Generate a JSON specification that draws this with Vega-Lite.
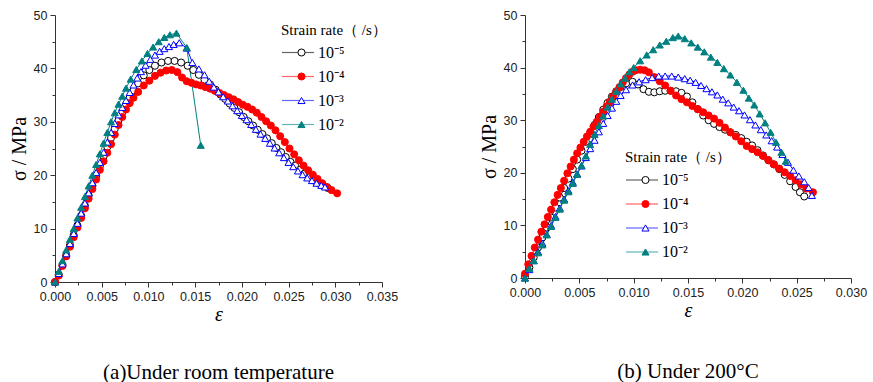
{
"$schema": "https://vega.github.io/schema/vega-lite/v6.json",
"padding": {"left": 9, "top": 9, "right": 0, "bottom": 0},
"background": "white",
"spacing": 81,
"config": {
  "view": {"stroke": null},
  "axis": {"domainColor": "#333333", "tickColor": "#333333", "labelColor": "#222222", "labelFont": "Liberation Sans", "labelFontSize": 12.5, "titleFont": "Liberation Serif", "titleFontWeight": "normal", "titleColor": "#000000", "titleFontSize": 20, "grid": false, "tickSize": 5, "labelPadding": 3, "labelFlush": false, "labelOverlap": false, "labelBound": false},
  "axisX": {"titleFontStyle": "italic", "titlePadding": 2},
  "axisY": {"titlePadding": 4},
  "legend": {"labelFont": "Liberation Serif", "labelFontSize": 16, "labelColor": "#000000", "titleFont": "Liberation Serif", "titleFontSize": 15, "titleFontWeight": "normal", "titleColor": "#000000"},
  "title": {"font": "Liberation Serif", "fontSize": 21, "fontWeight": "normal", "color": "#000000"}
},
"datasets": {
"rt": [
{"r":"1e-5","e":0,"s":0},{"r":"1e-5","e":0.0004,"s":1.4},{"r":"1e-5","e":0.0008,"s":3.2},{"r":"1e-5","e":0.0012,"s":5.0},{"r":"1e-5","e":0.0016,"s":6.9},{"r":"1e-5","e":0.002,"s":8.8},{"r":"1e-5","e":0.0024,"s":10.6},{"r":"1e-5","e":0.0028,"s":12.4},{"r":"1e-5","e":0.0032,"s":14.3},{"r":"1e-5","e":0.0036,"s":16.2},{"r":"1e-5","e":0.004,"s":18.0},{"r":"1e-5","e":0.0044,"s":19.9},{"r":"1e-5","e":0.0048,"s":21.7},{"r":"1e-5","e":0.0052,"s":23.5},{"r":"1e-5","e":0.0056,"s":25.3},{"r":"1e-5","e":0.006,"s":27.0},{"r":"1e-5","e":0.0064,"s":28.7},{"r":"1e-5","e":0.0068,"s":30.3},{"r":"1e-5","e":0.0072,"s":31.8},{"r":"1e-5","e":0.0076,"s":33.2},{"r":"1e-5","e":0.008,"s":34.6},{"r":"1e-5","e":0.0084,"s":35.9},{"r":"1e-5","e":0.0089,"s":37.2},{"r":"1e-5","e":0.0095,"s":38.7},{"r":"1e-5","e":0.0101,"s":39.7},{"r":"1e-5","e":0.0107,"s":40.5},{"r":"1e-5","e":0.0114,"s":41.1},{"r":"1e-5","e":0.0121,"s":41.4},{"r":"1e-5","e":0.0128,"s":41.4},{"r":"1e-5","e":0.0135,"s":41.1},{"r":"1e-5","e":0.0142,"s":40.5},{"r":"1e-5","e":0.0148,"s":39.7},{"r":"1e-5","e":0.0154,"s":38.8},{"r":"1e-5","e":0.016,"s":37.9},{"r":"1e-5","e":0.0166,"s":37.0},{"r":"1e-5","e":0.0172,"s":36.0},{"r":"1e-5","e":0.0177,"s":35.1},{"r":"1e-5","e":0.0182,"s":34.3},{"r":"1e-5","e":0.0187,"s":33.4},{"r":"1e-5","e":0.0192,"s":32.6},{"r":"1e-5","e":0.0197,"s":31.8},{"r":"1e-5","e":0.0202,"s":30.9},{"r":"1e-5","e":0.0207,"s":30.1},{"r":"1e-5","e":0.0212,"s":29.3},{"r":"1e-5","e":0.0217,"s":28.5},{"r":"1e-5","e":0.0222,"s":27.7},{"r":"1e-5","e":0.0227,"s":26.9},{"r":"1e-5","e":0.0232,"s":26.0},{"r":"1e-5","e":0.0237,"s":25.1},{"r":"1e-5","e":0.0242,"s":24.3},{"r":"1e-5","e":0.0247,"s":23.4},{"r":"1e-5","e":0.0252,"s":22.5},{"r":"1e-5","e":0.0257,"s":21.8},{"r":"1e-5","e":0.0262,"s":21.0},{"r":"1e-5","e":0.0267,"s":20.3},{"r":"1e-5","e":0.0272,"s":19.6},{"r":"1e-5","e":0.0277,"s":19.0},{"r":"1e-5","e":0.0282,"s":18.5},{"r":"1e-5","e":0.0287,"s":18.0},{"r":"1e-5","e":0.0292,"s":17.6},
{"r":"1e-4","e":0,"s":0},{"r":"1e-4","e":0.0004,"s":1.2},{"r":"1e-4","e":0.0008,"s":3.0},{"r":"1e-4","e":0.0012,"s":4.8},{"r":"1e-4","e":0.0016,"s":6.6},{"r":"1e-4","e":0.002,"s":8.4},{"r":"1e-4","e":0.0024,"s":10.2},{"r":"1e-4","e":0.0028,"s":12.0},{"r":"1e-4","e":0.0032,"s":13.8},{"r":"1e-4","e":0.0036,"s":15.6},{"r":"1e-4","e":0.004,"s":17.4},{"r":"1e-4","e":0.0044,"s":19.2},{"r":"1e-4","e":0.0048,"s":21.0},{"r":"1e-4","e":0.0052,"s":22.6},{"r":"1e-4","e":0.0056,"s":24.2},{"r":"1e-4","e":0.006,"s":25.8},{"r":"1e-4","e":0.0064,"s":27.6},{"r":"1e-4","e":0.0068,"s":29.4},{"r":"1e-4","e":0.0072,"s":30.9},{"r":"1e-4","e":0.0076,"s":32.3},{"r":"1e-4","e":0.008,"s":33.5},{"r":"1e-4","e":0.0084,"s":34.5},{"r":"1e-4","e":0.0089,"s":35.6},{"r":"1e-4","e":0.0095,"s":36.8},{"r":"1e-4","e":0.0101,"s":37.7},{"r":"1e-4","e":0.0107,"s":38.6},{"r":"1e-4","e":0.0113,"s":39.2},{"r":"1e-4","e":0.0119,"s":39.6},{"r":"1e-4","e":0.0125,"s":39.7},{"r":"1e-4","e":0.0131,"s":39.3},{"r":"1e-4","e":0.0136,"s":38.3},{"r":"1e-4","e":0.0141,"s":37.6},{"r":"1e-4","e":0.0146,"s":37.3},{"r":"1e-4","e":0.0151,"s":37.0},{"r":"1e-4","e":0.0156,"s":36.8},{"r":"1e-4","e":0.0161,"s":36.5},{"r":"1e-4","e":0.0166,"s":36.2},{"r":"1e-4","e":0.0171,"s":35.8},{"r":"1e-4","e":0.0176,"s":35.4},{"r":"1e-4","e":0.0181,"s":35.0},{"r":"1e-4","e":0.0186,"s":34.6},{"r":"1e-4","e":0.0191,"s":34.2},{"r":"1e-4","e":0.0196,"s":33.7},{"r":"1e-4","e":0.0201,"s":33.2},{"r":"1e-4","e":0.0206,"s":32.8},{"r":"1e-4","e":0.0211,"s":32.3},{"r":"1e-4","e":0.0216,"s":31.7},{"r":"1e-4","e":0.0221,"s":30.9},{"r":"1e-4","e":0.0226,"s":30.1},{"r":"1e-4","e":0.0231,"s":29.3},{"r":"1e-4","e":0.0236,"s":28.4},{"r":"1e-4","e":0.0241,"s":27.3},{"r":"1e-4","e":0.0246,"s":26.2},{"r":"1e-4","e":0.0251,"s":25.0},{"r":"1e-4","e":0.0256,"s":23.9},{"r":"1e-4","e":0.0261,"s":22.8},{"r":"1e-4","e":0.0266,"s":21.8},{"r":"1e-4","e":0.0271,"s":20.9},{"r":"1e-4","e":0.0276,"s":20.1},{"r":"1e-4","e":0.0281,"s":19.3},{"r":"1e-4","e":0.0286,"s":18.5},{"r":"1e-4","e":0.0291,"s":17.8},{"r":"1e-4","e":0.0296,"s":17.2},{"r":"1e-4","e":0.0302,"s":16.6},
{"r":"1e-3","e":0,"s":0},{"r":"1e-3","e":0.0004,"s":1.6},{"r":"1e-3","e":0.0008,"s":3.4},{"r":"1e-3","e":0.0012,"s":5.3},{"r":"1e-3","e":0.0016,"s":7.2},{"r":"1e-3","e":0.002,"s":9.1},{"r":"1e-3","e":0.0024,"s":11.0},{"r":"1e-3","e":0.0028,"s":12.9},{"r":"1e-3","e":0.0032,"s":14.8},{"r":"1e-3","e":0.0036,"s":16.7},{"r":"1e-3","e":0.004,"s":18.6},{"r":"1e-3","e":0.0044,"s":20.5},{"r":"1e-3","e":0.0048,"s":22.4},{"r":"1e-3","e":0.0052,"s":24.3},{"r":"1e-3","e":0.0056,"s":26.2},{"r":"1e-3","e":0.006,"s":28.0},{"r":"1e-3","e":0.0064,"s":29.7},{"r":"1e-3","e":0.0068,"s":31.3},{"r":"1e-3","e":0.0072,"s":32.7},{"r":"1e-3","e":0.0076,"s":34.0},{"r":"1e-3","e":0.008,"s":35.5},{"r":"1e-3","e":0.0084,"s":36.9},{"r":"1e-3","e":0.0088,"s":38.2},{"r":"1e-3","e":0.0092,"s":39.4},{"r":"1e-3","e":0.0097,"s":40.6},{"r":"1e-3","e":0.0102,"s":41.7},{"r":"1e-3","e":0.0107,"s":42.5},{"r":"1e-3","e":0.0112,"s":43.2},{"r":"1e-3","e":0.0117,"s":43.7},{"r":"1e-3","e":0.0122,"s":44.1},{"r":"1e-3","e":0.0127,"s":44.5},{"r":"1e-3","e":0.0133,"s":44.8},{"r":"1e-3","e":0.0141,"s":43.8},{"r":"1e-3","e":0.0147,"s":41.1},{"r":"1e-3","e":0.0154,"s":39.9},{"r":"1e-3","e":0.016,"s":38.8},{"r":"1e-3","e":0.0165,"s":37.6},{"r":"1e-3","e":0.017,"s":36.5},{"r":"1e-3","e":0.0175,"s":35.6},{"r":"1e-3","e":0.018,"s":34.7},{"r":"1e-3","e":0.0185,"s":33.9},{"r":"1e-3","e":0.019,"s":33.0},{"r":"1e-3","e":0.0195,"s":32.1},{"r":"1e-3","e":0.02,"s":31.2},{"r":"1e-3","e":0.0205,"s":30.4},{"r":"1e-3","e":0.021,"s":29.5},{"r":"1e-3","e":0.0215,"s":28.6},{"r":"1e-3","e":0.022,"s":27.7},{"r":"1e-3","e":0.0225,"s":26.9},{"r":"1e-3","e":0.023,"s":26.0},{"r":"1e-3","e":0.0235,"s":25.1},{"r":"1e-3","e":0.024,"s":24.2},{"r":"1e-3","e":0.0245,"s":23.3},{"r":"1e-3","e":0.025,"s":22.4},{"r":"1e-3","e":0.0255,"s":21.6},{"r":"1e-3","e":0.026,"s":20.8},{"r":"1e-3","e":0.0265,"s":20.1},{"r":"1e-3","e":0.027,"s":19.5},{"r":"1e-3","e":0.0275,"s":19.0},{"r":"1e-3","e":0.028,"s":18.5},{"r":"1e-3","e":0.0285,"s":18.1},{"r":"1e-3","e":0.0289,"s":17.8},
{"r":"1e-2","e":0,"s":0},{"r":"1e-2","e":0.0004,"s":2.0},{"r":"1e-2","e":0.0008,"s":4.0},{"r":"1e-2","e":0.0012,"s":6.0},{"r":"1e-2","e":0.0016,"s":8.0},{"r":"1e-2","e":0.002,"s":10.0},{"r":"1e-2","e":0.0024,"s":12.0},{"r":"1e-2","e":0.0028,"s":14.0},{"r":"1e-2","e":0.0032,"s":16.0},{"r":"1e-2","e":0.0036,"s":18.0},{"r":"1e-2","e":0.004,"s":20.0},{"r":"1e-2","e":0.0044,"s":22.0},{"r":"1e-2","e":0.0048,"s":24.0},{"r":"1e-2","e":0.0052,"s":26.0},{"r":"1e-2","e":0.0056,"s":28.0},{"r":"1e-2","e":0.006,"s":30.0},{"r":"1e-2","e":0.0064,"s":31.7},{"r":"1e-2","e":0.0068,"s":33.3},{"r":"1e-2","e":0.0072,"s":34.8},{"r":"1e-2","e":0.0076,"s":36.3},{"r":"1e-2","e":0.0081,"s":38.0},{"r":"1e-2","e":0.0087,"s":39.8},{"r":"1e-2","e":0.0093,"s":41.4},{"r":"1e-2","e":0.0099,"s":42.8},{"r":"1e-2","e":0.0105,"s":44.0},{"r":"1e-2","e":0.0111,"s":45.0},{"r":"1e-2","e":0.0117,"s":45.8},{"r":"1e-2","e":0.0123,"s":46.3},{"r":"1e-2","e":0.013,"s":46.6},{"r":"1e-2","e":0.0141,"s":43.9},{"r":"1e-2","e":0.0156,"s":25.6}
],
"t200": [
{"r":"1e-5","e":0,"s":0.3},{"r":"1e-5","e":0.0004,"s":2.0},{"r":"1e-5","e":0.0008,"s":3.9},{"r":"1e-5","e":0.0012,"s":5.8},{"r":"1e-5","e":0.0016,"s":7.7},{"r":"1e-5","e":0.002,"s":9.6},{"r":"1e-5","e":0.0024,"s":11.5},{"r":"1e-5","e":0.0028,"s":13.4},{"r":"1e-5","e":0.0032,"s":15.3},{"r":"1e-5","e":0.0036,"s":17.1},{"r":"1e-5","e":0.004,"s":18.9},{"r":"1e-5","e":0.0044,"s":20.7},{"r":"1e-5","e":0.0048,"s":22.5},{"r":"1e-5","e":0.0052,"s":24.2},{"r":"1e-5","e":0.0056,"s":25.9},{"r":"1e-5","e":0.006,"s":27.5},{"r":"1e-5","e":0.0064,"s":29.1},{"r":"1e-5","e":0.0068,"s":30.6},{"r":"1e-5","e":0.0072,"s":32.0},{"r":"1e-5","e":0.0076,"s":33.3},{"r":"1e-5","e":0.008,"s":34.5},{"r":"1e-5","e":0.0084,"s":35.5},{"r":"1e-5","e":0.0088,"s":36.3},{"r":"1e-5","e":0.0093,"s":37.0},{"r":"1e-5","e":0.0099,"s":37.3},{"r":"1e-5","e":0.0104,"s":36.8},{"r":"1e-5","e":0.0109,"s":35.9},{"r":"1e-5","e":0.0114,"s":35.4},{"r":"1e-5","e":0.0119,"s":35.3},{"r":"1e-5","e":0.0124,"s":35.5},{"r":"1e-5","e":0.0129,"s":35.6},{"r":"1e-5","e":0.0134,"s":35.6},{"r":"1e-5","e":0.0139,"s":35.5},{"r":"1e-5","e":0.0144,"s":35.2},{"r":"1e-5","e":0.0149,"s":34.5},{"r":"1e-5","e":0.0154,"s":33.4},{"r":"1e-5","e":0.0159,"s":32.1},{"r":"1e-5","e":0.0164,"s":30.9},{"r":"1e-5","e":0.0169,"s":30.0},{"r":"1e-5","e":0.0174,"s":29.3},{"r":"1e-5","e":0.0179,"s":28.7},{"r":"1e-5","e":0.0184,"s":28.2},{"r":"1e-5","e":0.0189,"s":27.7},{"r":"1e-5","e":0.0194,"s":27.2},{"r":"1e-5","e":0.0199,"s":26.6},{"r":"1e-5","e":0.0204,"s":25.9},{"r":"1e-5","e":0.0209,"s":25.2},{"r":"1e-5","e":0.0214,"s":24.3},{"r":"1e-5","e":0.0219,"s":23.3},{"r":"1e-5","e":0.0224,"s":22.4},{"r":"1e-5","e":0.0229,"s":21.6},{"r":"1e-5","e":0.0234,"s":20.7},{"r":"1e-5","e":0.0239,"s":19.6},{"r":"1e-5","e":0.0244,"s":18.4},{"r":"1e-5","e":0.0249,"s":17.3},{"r":"1e-5","e":0.0253,"s":16.3},{"r":"1e-5","e":0.0257,"s":15.5},
{"r":"1e-4","e":0,"s":0.8},{"r":"1e-4","e":0.0003,"s":2.6},{"r":"1e-4","e":0.0006,"s":4.2},{"r":"1e-4","e":0.0009,"s":5.8},{"r":"1e-4","e":0.0012,"s":7.3},{"r":"1e-4","e":0.0015,"s":8.8},{"r":"1e-4","e":0.0018,"s":10.2},{"r":"1e-4","e":0.0021,"s":11.6},{"r":"1e-4","e":0.0024,"s":13.0},{"r":"1e-4","e":0.0027,"s":14.4},{"r":"1e-4","e":0.003,"s":15.8},{"r":"1e-4","e":0.0033,"s":17.1},{"r":"1e-4","e":0.0036,"s":18.5},{"r":"1e-4","e":0.0039,"s":19.9},{"r":"1e-4","e":0.0042,"s":21.2},{"r":"1e-4","e":0.0045,"s":22.5},{"r":"1e-4","e":0.0048,"s":23.7},{"r":"1e-4","e":0.0051,"s":24.8},{"r":"1e-4","e":0.0054,"s":25.9},{"r":"1e-4","e":0.0057,"s":26.9},{"r":"1e-4","e":0.006,"s":27.8},{"r":"1e-4","e":0.0063,"s":28.8},{"r":"1e-4","e":0.0066,"s":29.7},{"r":"1e-4","e":0.0069,"s":30.7},{"r":"1e-4","e":0.0072,"s":31.6},{"r":"1e-4","e":0.0075,"s":32.6},{"r":"1e-4","e":0.0078,"s":33.5},{"r":"1e-4","e":0.0081,"s":34.5},{"r":"1e-4","e":0.0084,"s":35.4},{"r":"1e-4","e":0.0087,"s":36.3},{"r":"1e-4","e":0.009,"s":37.2},{"r":"1e-4","e":0.0093,"s":38.0},{"r":"1e-4","e":0.0096,"s":38.7},{"r":"1e-4","e":0.0099,"s":39.2},{"r":"1e-4","e":0.0102,"s":39.5},{"r":"1e-4","e":0.0106,"s":39.6},{"r":"1e-4","e":0.011,"s":39.5},{"r":"1e-4","e":0.0114,"s":39.1},{"r":"1e-4","e":0.0119,"s":38.2},{"r":"1e-4","e":0.0124,"s":37.4},{"r":"1e-4","e":0.0129,"s":36.6},{"r":"1e-4","e":0.0134,"s":35.6},{"r":"1e-4","e":0.0139,"s":34.7},{"r":"1e-4","e":0.0144,"s":34.0},{"r":"1e-4","e":0.0149,"s":33.4},{"r":"1e-4","e":0.0154,"s":32.7},{"r":"1e-4","e":0.0159,"s":32.1},{"r":"1e-4","e":0.0164,"s":31.5},{"r":"1e-4","e":0.0169,"s":30.9},{"r":"1e-4","e":0.0174,"s":30.3},{"r":"1e-4","e":0.0179,"s":29.5},{"r":"1e-4","e":0.0184,"s":28.6},{"r":"1e-4","e":0.0189,"s":27.7},{"r":"1e-4","e":0.0194,"s":26.9},{"r":"1e-4","e":0.0199,"s":26.0},{"r":"1e-4","e":0.0204,"s":25.1},{"r":"1e-4","e":0.0209,"s":24.5},{"r":"1e-4","e":0.0214,"s":23.9},{"r":"1e-4","e":0.0219,"s":23.2},{"r":"1e-4","e":0.0224,"s":22.4},{"r":"1e-4","e":0.0229,"s":21.6},{"r":"1e-4","e":0.0234,"s":20.8},{"r":"1e-4","e":0.0239,"s":20.1},{"r":"1e-4","e":0.0244,"s":19.4},{"r":"1e-4","e":0.0249,"s":18.6},{"r":"1e-4","e":0.0254,"s":17.8},{"r":"1e-4","e":0.0259,"s":17.0},{"r":"1e-4","e":0.0265,"s":16.3},
{"r":"1e-3","e":0,"s":0},{"r":"1e-3","e":0.0004,"s":1.6},{"r":"1e-3","e":0.0008,"s":3.3},{"r":"1e-3","e":0.0012,"s":5.0},{"r":"1e-3","e":0.0016,"s":6.6},{"r":"1e-3","e":0.002,"s":8.3},{"r":"1e-3","e":0.0024,"s":10.0},{"r":"1e-3","e":0.0028,"s":11.7},{"r":"1e-3","e":0.0032,"s":13.3},{"r":"1e-3","e":0.0036,"s":15.0},{"r":"1e-3","e":0.004,"s":16.6},{"r":"1e-3","e":0.0044,"s":18.2},{"r":"1e-3","e":0.0048,"s":19.8},{"r":"1e-3","e":0.0052,"s":21.3},{"r":"1e-3","e":0.0056,"s":22.9},{"r":"1e-3","e":0.006,"s":24.6},{"r":"1e-3","e":0.0064,"s":26.2},{"r":"1e-3","e":0.0068,"s":27.8},{"r":"1e-3","e":0.0072,"s":29.4},{"r":"1e-3","e":0.0076,"s":30.9},{"r":"1e-3","e":0.008,"s":32.3},{"r":"1e-3","e":0.0084,"s":33.6},{"r":"1e-3","e":0.0088,"s":34.7},{"r":"1e-3","e":0.0093,"s":35.8},{"r":"1e-3","e":0.0099,"s":36.7},{"r":"1e-3","e":0.0105,"s":37.3},{"r":"1e-3","e":0.0111,"s":37.7},{"r":"1e-3","e":0.0117,"s":38.1},{"r":"1e-3","e":0.0123,"s":38.4},{"r":"1e-3","e":0.0129,"s":38.4},{"r":"1e-3","e":0.0135,"s":38.4},{"r":"1e-3","e":0.0141,"s":38.2},{"r":"1e-3","e":0.0147,"s":37.9},{"r":"1e-3","e":0.0152,"s":37.6},{"r":"1e-3","e":0.0157,"s":37.2},{"r":"1e-3","e":0.0162,"s":36.6},{"r":"1e-3","e":0.0167,"s":36.0},{"r":"1e-3","e":0.0172,"s":35.4},{"r":"1e-3","e":0.0177,"s":34.8},{"r":"1e-3","e":0.0182,"s":34.0},{"r":"1e-3","e":0.0187,"s":33.3},{"r":"1e-3","e":0.0192,"s":32.5},{"r":"1e-3","e":0.0197,"s":31.8},{"r":"1e-3","e":0.0202,"s":31.0},{"r":"1e-3","e":0.0207,"s":30.1},{"r":"1e-3","e":0.0212,"s":29.1},{"r":"1e-3","e":0.0217,"s":28.2},{"r":"1e-3","e":0.0222,"s":27.2},{"r":"1e-3","e":0.0227,"s":26.1},{"r":"1e-3","e":0.0232,"s":24.9},{"r":"1e-3","e":0.0237,"s":23.5},{"r":"1e-3","e":0.0242,"s":22.0},{"r":"1e-3","e":0.0247,"s":20.5},{"r":"1e-3","e":0.0252,"s":19.4},{"r":"1e-3","e":0.0257,"s":18.3},{"r":"1e-3","e":0.0261,"s":17.2},{"r":"1e-3","e":0.0264,"s":15.7},
{"r":"1e-2","e":0,"s":0},{"r":"1e-2","e":0.0004,"s":1.8},{"r":"1e-2","e":0.0008,"s":3.3},{"r":"1e-2","e":0.0012,"s":4.8},{"r":"1e-2","e":0.0016,"s":6.3},{"r":"1e-2","e":0.002,"s":8.2},{"r":"1e-2","e":0.0024,"s":9.8},{"r":"1e-2","e":0.0028,"s":11.5},{"r":"1e-2","e":0.0032,"s":13.1},{"r":"1e-2","e":0.0036,"s":14.8},{"r":"1e-2","e":0.004,"s":16.4},{"r":"1e-2","e":0.0044,"s":18.0},{"r":"1e-2","e":0.0048,"s":19.7},{"r":"1e-2","e":0.0052,"s":21.4},{"r":"1e-2","e":0.0056,"s":23.2},{"r":"1e-2","e":0.006,"s":25.4},{"r":"1e-2","e":0.0064,"s":27.3},{"r":"1e-2","e":0.0068,"s":29.0},{"r":"1e-2","e":0.0072,"s":30.8},{"r":"1e-2","e":0.0076,"s":32.5},{"r":"1e-2","e":0.008,"s":34.0},{"r":"1e-2","e":0.0084,"s":35.5},{"r":"1e-2","e":0.0088,"s":36.9},{"r":"1e-2","e":0.0092,"s":38.0},{"r":"1e-2","e":0.0096,"s":39.2},{"r":"1e-2","e":0.01,"s":40.0},{"r":"1e-2","e":0.0106,"s":41.3},{"r":"1e-2","e":0.0112,"s":42.4},{"r":"1e-2","e":0.0118,"s":43.4},{"r":"1e-2","e":0.0124,"s":44.3},{"r":"1e-2","e":0.013,"s":45.0},{"r":"1e-2","e":0.0136,"s":45.7},{"r":"1e-2","e":0.0141,"s":46.0},{"r":"1e-2","e":0.0147,"s":45.5},{"r":"1e-2","e":0.0153,"s":44.7},{"r":"1e-2","e":0.0159,"s":43.9},{"r":"1e-2","e":0.0165,"s":43.0},{"r":"1e-2","e":0.0171,"s":42.0},{"r":"1e-2","e":0.0177,"s":41.0},{"r":"1e-2","e":0.0183,"s":39.8},{"r":"1e-2","e":0.0189,"s":38.6},{"r":"1e-2","e":0.0195,"s":37.2},{"r":"1e-2","e":0.0201,"s":35.7},{"r":"1e-2","e":0.0206,"s":34.2},{"r":"1e-2","e":0.0211,"s":32.9},{"r":"1e-2","e":0.0216,"s":31.2},{"r":"1e-2","e":0.0221,"s":29.5},{"r":"1e-2","e":0.0226,"s":27.7},{"r":"1e-2","e":0.0231,"s":25.8},{"r":"1e-2","e":0.0236,"s":23.9},{"r":"1e-2","e":0.024,"s":22.2}
]
},
"resolve": {"scale": {"color": "independent", "stroke": "independent", "fill": "independent", "shape": "independent"}, "legend": {"color": "independent", "stroke": "independent", "fill": "independent", "shape": "independent"}},
"hconcat": [
{
  "width": 327, "height": 267,
  "data": {"name": "rt"},
  "title": {"text": "(a)Under room temperature", "orient": "bottom", "anchor": "middle", "frame": "group", "offset": 37},
  "layer": [
    {"mark": {"type": "line", "strokeWidth": 1},
     "encoding": {
       "x": {"field": "e", "type": "quantitative", "scale": {"domain": [0, 0.035], "nice": false, "zero": false}, "axis": {"orient": "bottom", "values": [0, 0.005, 0.01, 0.015, 0.02, 0.025, 0.03, 0.035], "format": ".3f", "title": "ε"}},
       "y": {"field": "s", "type": "quantitative", "scale": {"domain": [0, 50], "nice": false}, "axis": {"orient": "left", "values": [0, 10, 20, 30, 40, 50], "title": "σ / MPa"}},
       "color": {"field": "r", "type": "nominal", "sort": ["1e-5", "1e-4", "1e-3", "1e-2"], "scale": {"range": ["#000000", "#ff0000", "#0000ff", "#008080"]},
         "legend": {"title": "Strain rate（ /s）", "orient": "none", "legendX": 226, "legendY": 7.5, "padding": 0, "symbolType": "stroke", "symbolSize": 1024, "symbolStrokeWidth": 1.2, "symbolOpacity": 0.6, "labelOffset": 3, "clipHeight": 18, "rowPadding": 6, "titlePadding": 6,
           "labelExpr": "datum.value == '1e-5' ? '10⁻⁵' : datum.value == '1e-4' ? '10⁻⁴' : datum.value == '1e-3' ? '10⁻³' : '10⁻²'"}}
     }},
    {"mark": {"type": "point", "filled": false, "strokeWidth": 1, "opacity": 1, "size": 50},
     "encoding": {
       "x": {"field": "e", "type": "quantitative", "axis": {"orient": "bottom", "values": [0.0025, 0.0075, 0.0125, 0.0175, 0.0225, 0.0275, 0.0325], "labels": false, "domain": false, "tickSize": 3, "title": null}},
       "y": {"field": "s", "type": "quantitative", "axis": {"orient": "left", "values": [5, 15, 25, 35, 45], "labels": false, "domain": false, "tickSize": 3, "title": null}},
       "stroke": {"field": "r", "type": "nominal", "scale": {"domain": ["1e-5", "1e-4", "1e-3", "1e-2"], "range": ["#000000", "#ff0000", "#0000ff", "#008080"]},
         "legend": {"title": " ", "titleOpacity": 0, "labelOpacity": 0, "labelExpr": "''", "orient": "none", "legendX": 238.5, "legendY": 7.5, "padding": 0, "symbolSize": 50, "symbolStrokeWidth": 1, "clipHeight": 18, "rowPadding": 6, "titlePadding": 6}},
       "fill": {"field": "r", "type": "nominal", "scale": {"domain": ["1e-5", "1e-4", "1e-3", "1e-2"], "range": ["#ffffff", "#ff0000", "#ffffff", "#008080"]},
         "legend": {"title": " ", "titleOpacity": 0, "labelOpacity": 0, "labelExpr": "''", "orient": "none", "legendX": 238.5, "legendY": 7.5, "padding": 0, "symbolSize": 50, "symbolStrokeWidth": 1, "clipHeight": 18, "rowPadding": 6, "titlePadding": 6}},
       "shape": {"field": "r", "type": "nominal", "scale": {"domain": ["1e-5", "1e-4", "1e-3", "1e-2"], "range": ["circle", "circle", "triangle-up", "triangle-up"]},
         "legend": {"title": " ", "titleOpacity": 0, "labelOpacity": 0, "labelExpr": "''", "orient": "none", "legendX": 238.5, "legendY": 7.5, "padding": 0, "symbolSize": 50, "symbolStrokeWidth": 1, "clipHeight": 18, "rowPadding": 6, "titlePadding": 6}}
     }}
  ],
  "resolve": {"axis": {"x": "independent", "y": "independent"}}
},
{
  "width": 326, "height": 263,
  "data": {"name": "t200"},
  "title": {"text": "(b) Under 200°C", "orient": "bottom", "anchor": "middle", "frame": "group", "offset": 40},
  "layer": [
    {"mark": {"type": "line", "strokeWidth": 1},
     "encoding": {
       "x": {"field": "e", "type": "quantitative", "scale": {"domain": [0, 0.03], "nice": false, "zero": false}, "axis": {"orient": "bottom", "values": [0, 0.005, 0.01, 0.015, 0.02, 0.025, 0.03], "format": ".3f", "title": "ε"}},
       "y": {"field": "s", "type": "quantitative", "scale": {"domain": [0, 50], "nice": false}, "axis": {"orient": "left", "values": [0, 10, 20, 30, 40, 50], "title": "σ / MPa"}},
       "color": {"field": "r", "type": "nominal", "sort": ["1e-5", "1e-4", "1e-3", "1e-2"], "scale": {"range": ["#000000", "#ff0000", "#0000ff", "#008080"]},
         "legend": {"title": "Strain rate（ /s）", "orient": "none", "legendX": 100, "legendY": 135, "padding": 0, "symbolType": "stroke", "symbolSize": 1024, "symbolStrokeWidth": 1.2, "symbolOpacity": 0.6, "labelOffset": 3, "clipHeight": 18, "rowPadding": 6, "titlePadding": 6,
           "labelExpr": "datum.value == '1e-5' ? '10⁻⁵' : datum.value == '1e-4' ? '10⁻⁴' : datum.value == '1e-3' ? '10⁻³' : '10⁻²'"}}
     }},
    {"mark": {"type": "point", "filled": false, "strokeWidth": 1, "opacity": 1, "size": 50},
     "encoding": {
       "x": {"field": "e", "type": "quantitative", "axis": {"orient": "bottom", "values": [0.0025, 0.0075, 0.0125, 0.0175, 0.0225, 0.0275], "labels": false, "domain": false, "tickSize": 3, "title": null}},
       "y": {"field": "s", "type": "quantitative", "axis": {"orient": "left", "values": [5, 15, 25, 35, 45], "labels": false, "domain": false, "tickSize": 3, "title": null}},
       "stroke": {"field": "r", "type": "nominal", "scale": {"domain": ["1e-5", "1e-4", "1e-3", "1e-2"], "range": ["#000000", "#ff0000", "#0000ff", "#008080"]},
         "legend": {"title": " ", "titleOpacity": 0, "labelOpacity": 0, "labelExpr": "''", "orient": "none", "legendX": 112.5, "legendY": 135, "padding": 0, "symbolSize": 50, "symbolStrokeWidth": 1, "clipHeight": 18, "rowPadding": 6, "titlePadding": 6}},
       "fill": {"field": "r", "type": "nominal", "scale": {"domain": ["1e-5", "1e-4", "1e-3", "1e-2"], "range": ["#ffffff", "#ff0000", "#ffffff", "#008080"]},
         "legend": {"title": " ", "titleOpacity": 0, "labelOpacity": 0, "labelExpr": "''", "orient": "none", "legendX": 112.5, "legendY": 135, "padding": 0, "symbolSize": 50, "symbolStrokeWidth": 1, "clipHeight": 18, "rowPadding": 6, "titlePadding": 6}},
       "shape": {"field": "r", "type": "nominal", "scale": {"domain": ["1e-5", "1e-4", "1e-3", "1e-2"], "range": ["circle", "circle", "triangle-up", "triangle-up"]},
         "legend": {"title": " ", "titleOpacity": 0, "labelOpacity": 0, "labelExpr": "''", "orient": "none", "legendX": 112.5, "legendY": 135, "padding": 0, "symbolSize": 50, "symbolStrokeWidth": 1, "clipHeight": 18, "rowPadding": 6, "titlePadding": 6}}
     }}
  ],
  "resolve": {"axis": {"x": "independent", "y": "independent"}}
}
]
}
